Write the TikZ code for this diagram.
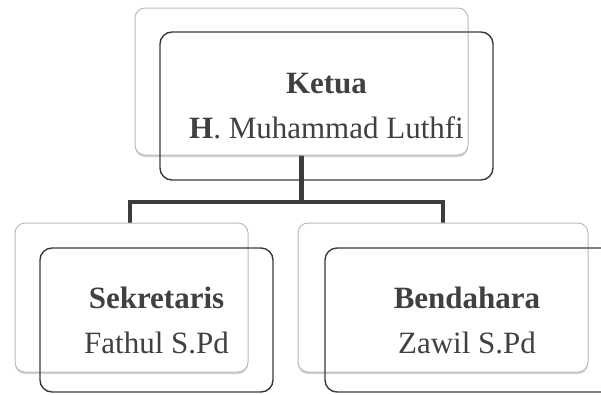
\documentclass[tikz,border=0pt]{standalone}
\usepackage{fontspec}
\setmainfont{Liberation Serif}
\usetikzlibrary{shadows}
\definecolor{txt}{HTML}{404040}
\definecolor{conncol}{HTML}{3C3C3C}
\definecolor{frontcol}{HTML}{3A3A3A}
\definecolor{backcol}{HTML}{BCBCBC}
\tikzset{
  conn/.style={draw=conncol, line width=4.4pt, line join=miter},
  backbox/.style={draw=backcol, line width=1pt, fill=white, rounded corners=10pt,
    inner sep=0pt, drop shadow={shadow xshift=0pt, shadow yshift=-2pt, opacity=0.3, fill=black!60}},
  frontbox/.style={draw=frontcol, line width=1.4pt, rounded corners=12pt, inner sep=0pt,
    text=txt, align=center, font={\fontsize{31}{45}\selectfont}},
  label/.style={inner sep=0pt, text=txt, align=center, font={\fontsize{31}{45}\selectfont}},
}
\begin{document}
\begin{tikzpicture}[x=1pt, y=-1pt]
\useasboundingbox (0,0) rectangle (601,394);
% connectors (behind back boxes)
\coordinate (bus) at (301.5,202);
\node[minimum width=333pt, minimum height=147pt, inner sep=0pt] (tbpos) at (301.5,81.5) {};
\draw[conn] (tbpos.south) -- (bus);
\coordinate (lbtop) at (130,224);
\coordinate (rbtop) at (443,224);
\draw[conn] (lbtop) |- (bus) -| (rbtop);
% back boxes
\node[backbox, minimum width=333pt, minimum height=147pt] (tb) at (301.5,81.5) {};
\node[backbox, minimum width=233pt, minimum height=149pt] (lb) at (131.5,297.5) {};
\node[backbox, minimum width=290pt, minimum height=149pt] (rb) at (443,297.5) {};
% front boxes with text
\node[frontbox, minimum width=333pt, minimum height=148pt] (tf) at (326.5,106)
  {\textbf{Ketua}\\\textbf{H}. Muhammad Luthfi};
\node[frontbox, minimum width=233pt, minimum height=144pt] (lf) at (156.5,320)
  {\textbf{Sekretaris}\\Fathul S.Pd};
\node[frontbox, minimum width=300pt, minimum height=144pt] (rf) at (475,320) {};
\node[label] (rft) at (467,320) {\textbf{Bendahara}\\Zawil S.Pd};
\end{tikzpicture}
\end{document}
